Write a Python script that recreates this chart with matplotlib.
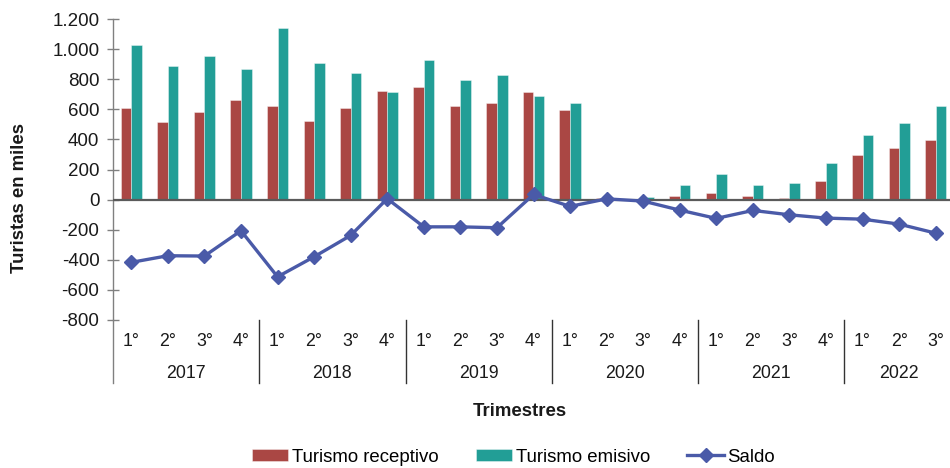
import matplotlib
matplotlib.use("Agg")
import matplotlib.pyplot as plt
from matplotlib.lines import Line2D
from matplotlib.transforms import blended_transform_factory
from matplotlib.ticker import FuncFormatter

plt.rcParams['font.family'] = ['Liberation Sans', 'DejaVu Sans']

years = ["2017", "2018", "2019", "2020", "2021", "2022"]
quarters = ["1°", "2°", "3°", "4°"] * 5 + ["1°", "2°", "3°"]
receptivo = [606, 515, 579, 661, 621, 524, 606, 723, 745, 619, 641, 716,
             595, 8, 5, 25, 45, 21, 10, 123, 298, 344, 393]
emisivo = [1024, 887, 951, 869, 1137, 905, 843, 716, 925, 798, 825, 686,
           639, 3, 15, 96, 169, 94, 110, 243, 426, 508, 619]
saldo = [-417, -373, -375, -207, -513, -380, -238, 6, -181, -181, -187, 34,
         -45, 5, -10, -70, -125, -72, -101, -123, -130, -163, -223]

W, H = 950, 468
fig = plt.figure(figsize=(W / 100, H / 100), dpi=100)

def fy(p):
    return 1 - p / H

ax_left, ax_right, ax_top, ax_bot = 113, 954, 19, 320
ax = fig.add_axes([ax_left / W, fy(ax_bot), (ax_right - ax_left) / W, (ax_bot - ax_top) / H])

red = "#AA4744"
teal = "#229E96"
blue = "#4A5AA8"

x = list(range(len(quarters)))
bw = 0.29
b1 = ax.bar([i - bw / 2 for i in x], receptivo, width=bw, color=red,
            edgecolor=(1, 1, 1, 0.45), linewidth=0.6, label="Turismo receptivo", zorder=2)
b2 = ax.bar([i + bw / 2 for i in x], emisivo, width=bw, color=teal,
            edgecolor=(1, 1, 1, 0.45), linewidth=0.6, label="Turismo emisivo", zorder=2)
ax.axhline(0, color="#5a5a5a", linewidth=1.6, zorder=3)
ln, = ax.plot(x, saldo, color=blue, linewidth=2.4, marker="D", markersize=7,
              label="Saldo", zorder=4)

ax.set_xlim(-0.5, len(quarters) - 0.5)
ax.set_ylim(-800, 1200)
ax.set_yticks(range(-800, 1201, 200))
ax.yaxis.set_major_formatter(FuncFormatter(lambda v, p: f"{int(v):,}".replace(",", ".")))
ax.tick_params(axis="y", direction="inout", length=8.6, width=1.0, color="#808080",
               pad=5.5, labelsize=13.5, labelcolor="#1a1a1a")
ax.set_xticks([])
for s in ["top", "right", "bottom"]:
    ax.spines[s].set_visible(False)
ax.spines["left"].set_color("#808080")
ax.spines["left"].set_linewidth(1.0)

tr = blended_transform_factory(ax.transData, fig.transFigure)
for i, q in enumerate(quarters):
    ax.text(i, fy(341), q, transform=tr, ha="center", va="center",
            fontsize=12.8, color="#1a1a1a", clip_on=False)
year_centers = [1.5, 5.5, 9.5, 13.5, 17.5, 21]
for c, yl in zip(year_centers, years):
    ax.text(c, fy(373), yl, transform=tr, ha="center", va="center",
            fontsize=12.8, color="#1a1a1a", clip_on=False)
for b in [-0.5, 3.5, 7.5, 11.5, 15.5, 19.5]:
    col = "#808080" if b < 0 else "#333333"
    ax.add_line(Line2D([b, b], [fy(ax_bot), fy(383)], transform=tr, color=col,
                       linewidth=1.0, clip_on=False))

fig.text(520 / W, fy(412), "Trimestres", ha="center", va="center",
         fontsize=13.4, fontweight="bold", color="#1a1a1a")
fig.text(20 / W, fy(198), "Turistas en miles", ha="center", va="center",
         rotation=90, fontsize=13.4, fontweight="bold", color="#1a1a1a")

fig.legend([b1, b2, ln], ["Turismo receptivo", "Turismo emisivo", "Saldo"],
           loc="center", bbox_to_anchor=(513.5 / W, fy(457)), ncol=3,
           frameon=False, fontsize=13.4, handlelength=1.95, handleheight=0.55,
           handletextpad=0.2, columnspacing=2.0, borderaxespad=0, borderpad=0)

fig.savefig("out.png", dpi=100)
